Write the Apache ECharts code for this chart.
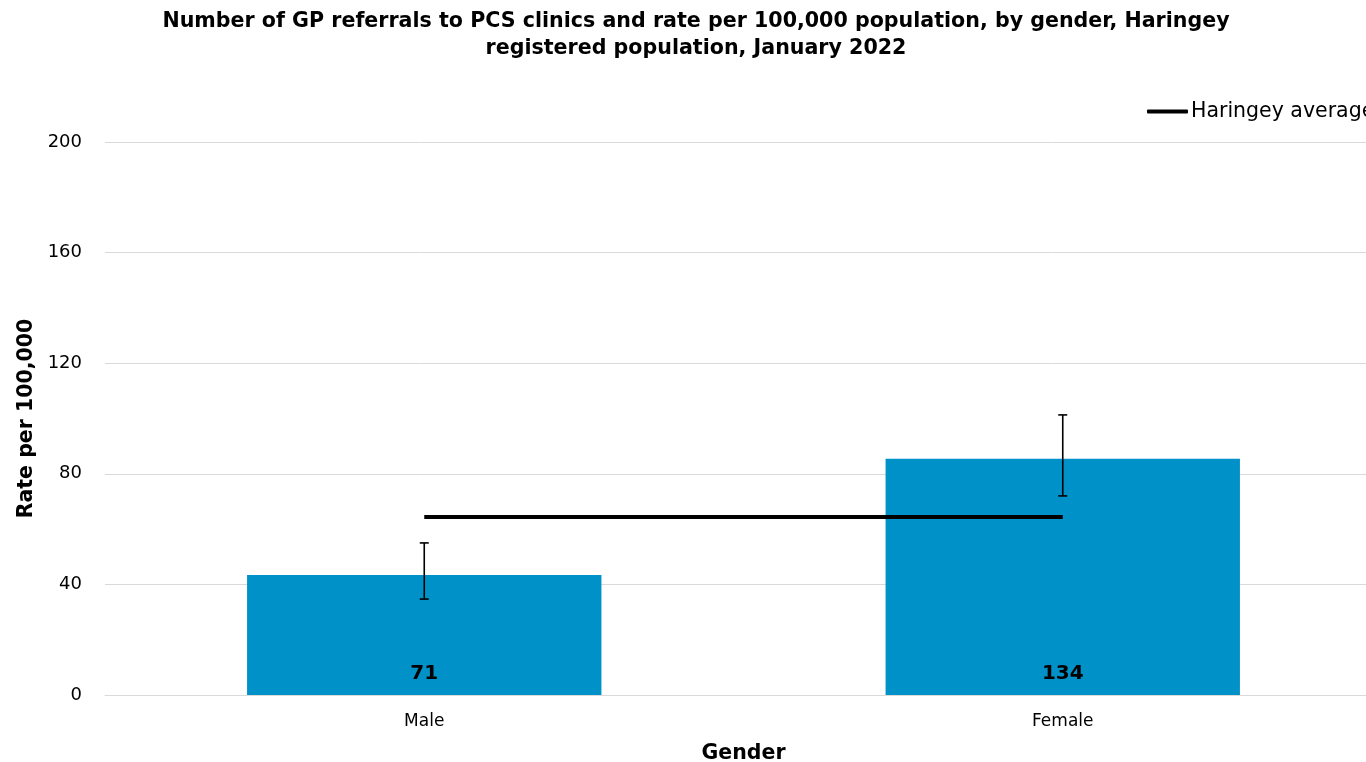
<!DOCTYPE html>
<html><head><meta charset="utf-8">
<script src="https://cdn.jsdelivr.net/npm/echarts@6/dist/echarts.min.js"></script>
<style>html,body{margin:0;padding:0;background:#fff;overflow:hidden}#c{width:1366px;height:762px}</style>
</head><body><div id="c"></div>
<script>
const categories = ['Male', 'Female'];
const rates = [43.4, 85.4];
const counts = [71, 134];
const ciLower = [34.7, 72.0];
const ciUpper = [55.0, 101.3];
const haringeyAverage = [64.4, 64.4];
const yTicks = [0, 40, 80, 120, 160, 200];

const FONT = '"DejaVu Sans", sans-serif';
const chart = echarts.init(document.getElementById('c'), null, {renderer: 'canvas'});
chart.setOption({
  animation: false,
  textStyle: {fontFamily: FONT},
  title: {
    text: 'Number of GP referrals to PCS clinics and rate per 100,000 population, by gender, Haringey\nregistered population, January 2022',
    left: 691, top: 3, textAlign: 'center',
    textStyle: {fontFamily: FONT, fontSize: 20.6, fontWeight: 'bold', color: '#000', lineHeight: 27}
  },
  legend: {
    left: 1147, top: 101, padding: 0,
    itemWidth: 41, itemHeight: 4, itemGap: 4,
    textStyle: {fontFamily: FONT, fontSize: 20.5, color: '#000', padding: [0,0,0,-2]},
    data: [{name: 'Haringey average', icon: 'roundRect'}]
  },
  grid: {left: 105, right: -16, top: 142, bottom: 67, containLabel: false, outerBoundsMode: 'none'},
  xAxis: {
    type: 'category', data: categories,
    axisLine: {show: true, lineStyle: {color: '#d9d9d9'}},
    axisTick: {show: false},
    axisLabel: {fontFamily: FONT, fontSize: 17, color: '#000', margin: 18},
    name: 'Gender', nameLocation: 'middle', nameGap: 48,
    nameTextStyle: {fontFamily: FONT, fontSize: 20.5, fontWeight: 'bold', color: '#000'}
  },
  yAxis: {
    type: 'value', min: 0, max: 200, interval: 40,
    axisLine: {show: false}, axisTick: {show: false},
    splitLine: {lineStyle: {color: '#d9d9d9', width: 1}},
    axisLabel: {fontFamily: FONT, fontSize: 18, color: '#000', margin: 23,
      formatter: v => yTicks.includes(v) ? String(v) : ''},
    name: 'Rate per 100,000', nameLocation: 'middle', nameGap: 64,
    nameTextStyle: {fontFamily: FONT, fontSize: 20.5, fontWeight: 'bold', color: '#000'}
  },
  series: [
    {
      name: 'Rate', type: 'bar', data: rates, barWidth: '55.5%',
      itemStyle: {color: '#0091c9'},
      label: {show: true, position: 'insideBottom', distance: 11,
        formatter: p => String(counts[p.dataIndex]),
        fontFamily: FONT, fontSize: 20, fontWeight: 'bold', color: '#000'},
      z: 2
    },
    {
      name: 'CI', type: 'custom', z: 4,
      data: categories.map((c, i) => [i, ciLower[i], ciUpper[i]]),
      renderItem: (params, api) => {
        const lo = api.coord([api.value(0), api.value(1)]);
        const hi = api.coord([api.value(0), api.value(2)]);
        const hw = 4.5;
        const st = {stroke: '#000', lineWidth: 1.6};
        return {type: 'group', children: [
          {type: 'line', shape: {x1: lo[0], y1: lo[1], x2: hi[0], y2: hi[1]}, style: st},
          {type: 'line', shape: {x1: lo[0]-hw, y1: lo[1], x2: lo[0]+hw, y2: lo[1]}, style: st},
          {type: 'line', shape: {x1: hi[0]-hw, y1: hi[1], x2: hi[0]+hw, y2: hi[1]}, style: st}
        ]};
      }
    },
    {
      name: 'Haringey average', type: 'line', data: haringeyAverage,
      symbol: 'none', lineStyle: {color: '#000', width: 4}, itemStyle: {color: '#000'}, z: 5
    }
  ]
});
</script></body></html>
